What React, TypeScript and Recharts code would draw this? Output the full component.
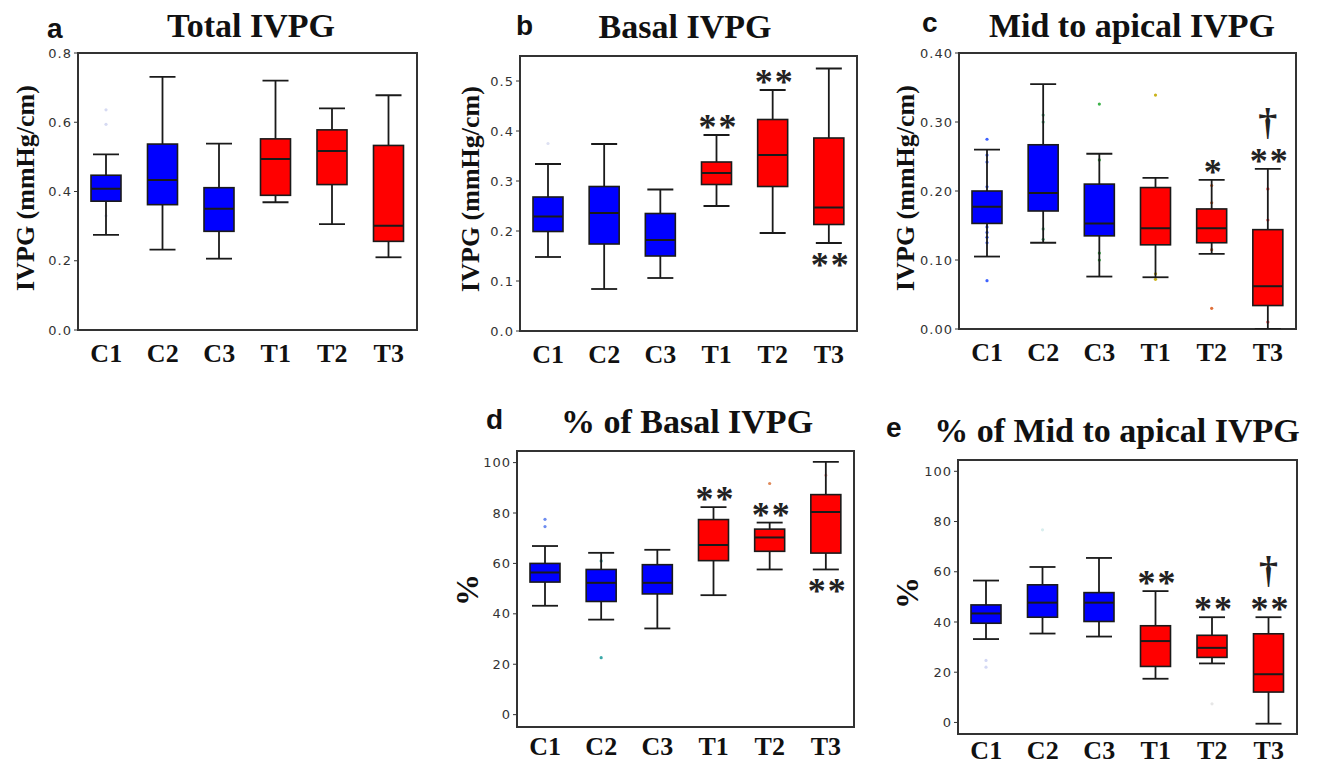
import React from 'react';
import { ComposedChart, Bar, XAxis, YAxis, ReferenceArea } from 'recharts';

const categories = ['C1', 'C2', 'C3', 'T1', 'T2', 'T3'];
const boxFills = ['#0000ff', '#0000ff', '#0000ff', '#ff0000', '#ff0000', '#ff0000'];

// a  Total IVPG (mmHg/cm)
const totalMin = [0.275, 0.232, 0.206, 0.369, 0.306, 0.21];
const totalQ1 = [0.372, 0.362, 0.285, 0.389, 0.42, 0.256];
const totalMed = [0.408, 0.433, 0.35, 0.494, 0.517, 0.301];
const totalQ3 = [0.447, 0.537, 0.411, 0.552, 0.578, 0.533];
const totalMax = [0.507, 0.731, 0.538, 0.72, 0.64, 0.678];
const totalPoints = [[0.636, 0.594, 0.33], [], [], [], [], []];
const totalTicks = [0, 0.2, 0.4, 0.6, 0.8];

// b  Basal IVPG
const basalMin = [0.148, 0.084, 0.106, 0.25, 0.196, 0.176];
const basalQ1 = [0.199, 0.174, 0.15, 0.293, 0.289, 0.213];
const basalMed = [0.229, 0.236, 0.182, 0.316, 0.352, 0.247];
const basalQ3 = [0.268, 0.289, 0.235, 0.338, 0.423, 0.386];
const basalMax = [0.334, 0.374, 0.283, 0.392, 0.482, 0.525];
const basalPoints = [[0.375], [], [], [], [], []];
const basalAbove = ['', '', '', '**', '**', ''];
const basalBelow = ['', '', '', '', '', '**'];
const basalTicks = [0, 0.1, 0.2, 0.3, 0.4, 0.5];

// c  Mid to apical IVPG
const midMin = [0.105, 0.125, 0.076, 0.075, 0.109, 0.0];
const midQ1 = [0.153, 0.171, 0.135, 0.122, 0.125, 0.034];
const midMed = [0.177, 0.197, 0.153, 0.146, 0.146, 0.062];
const midQ3 = [0.2, 0.267, 0.21, 0.205, 0.174, 0.144];
const midMax = [0.26, 0.355, 0.254, 0.219, 0.216, 0.232];
const midPoints = [
  [0.275, 0.252, 0.242, 0.206, 0.148, 0.14, 0.133, 0.125, 0.07],
  [0.31, 0.3, 0.145, 0.13],
  [0.326, 0.245, 0.11, 0.1],
  [0.339, 0.08, 0.072],
  [0.208, 0.183, 0.115, 0.03],
  [0.203, 0.158, 0.01],
];
const midAbove = ['', '', '', '', '*', '**'];
const midDagger = [false, false, false, false, false, true];
const midTicks = [0, 0.1, 0.2, 0.3, 0.4];

// d  % of Basal IVPG
const pctBasalMin = [43.2, 37.7, 34.2, 47.4, 57.6, 57.6];
const pctBasalQ1 = [52.6, 44.9, 47.9, 61.1, 64.8, 64.1];
const pctBasalMed = [56.4, 52.3, 52.3, 67.3, 70.3, 80.4];
const pctBasalQ3 = [60.0, 57.6, 59.5, 77.4, 73.6, 87.3];
const pctBasalMax = [66.9, 64.2, 65.4, 82.3, 76.2, 100.3];
const pctBasalPoints = [[77.5, 74.6], [22.6, 61], [], [], [91.7], [95]];
const pctBasalAbove = ['', '', '', '**', '**', ''];
const pctBasalBelow = ['', '', '', '', '', '**'];

// e  % of Mid to apical IVPG
const pctMidMin = [33.2, 35.4, 34.2, 17.4, 23.5, -0.5];
const pctMidQ1 = [39.5, 41.9, 40.2, 22.3, 25.9, 12.1];
const pctMidMed = [43.4, 47.7, 47.7, 32.4, 29.7, 19.2];
const pctMidQ3 = [46.8, 54.8, 51.7, 38.5, 34.7, 35.3];
const pctMidMax = [56.5, 61.9, 65.5, 52.3, 41.9, 41.9];
const pctMidPoints = [[24.7, 22], [76.7], [], [], [7.4], []];
const pctMidAbove = ['', '', '', '**', '**', '**'];
const pctMidDagger = [false, false, false, false, false, true];
const pctTicks = [0, 20, 40, 60, 80, 100];

const none = ['', '', '', '', '', ''];
const noDagger = [false, false, false, false, false, false];

function buildRows(mins: number[], q1: number[], med: number[], q3: number[], max: number[], pts: number[][]) {
  return categories.map((cat, i) => ({
    cat,
    min: mins[i],
    q1: q1[i],
    med: med[i],
    q3: q3[i],
    max: max[i],
    points: pts[i],
  }));
}

type Frame = { left: number; top: number; right: number; bottom: number };

function BoxPanel(props: {
  frame: Frame;
  domain: [number, number];
  ticks: number[];
  fmt: (v: number) => string;
  rows: any[];
  pointColors: string[];
  above: string[];
  below: string[];
  dagger: boolean[];
  labelGap: number;
}) {
  const { frame, domain, ticks, fmt, rows, pointColors, above, below, dagger, labelGap } = props;
  const fw = frame.right - frame.left;
  const fh = frame.bottom - frame.top;
  const plotBottom = 10 + fh;

  const renderBox = (p: any) => {
    const { x, y, width, height, index, payload } = p;
    const top = Math.min(y, y + height);
    const bot = Math.max(y, y + height);
    const py = (v: number) => top + ((payload.max - v) / (payload.max - payload.min)) * (bot - top);
    const cx = x + width / 2;
    const cap = 13;
    const ink = '#1a1a1a';
    const starSize = 36;
    return (
      <g>
        {payload.points.map((v: number, k: number) => (
          <circle key={k} cx={cx} cy={py(v)} r={1.6} fill={pointColors[index]} />
        ))}
        <line x1={cx} x2={cx} y1={py(payload.max)} y2={py(payload.q3)} stroke={ink} strokeWidth={1.8} />
        <line x1={cx} x2={cx} y1={py(payload.q1)} y2={py(payload.min)} stroke={ink} strokeWidth={1.8} />
        <line x1={cx - cap} x2={cx + cap} y1={py(payload.max)} y2={py(payload.max)} stroke={ink} strokeWidth={1.8} />
        <line x1={cx - cap} x2={cx + cap} y1={py(payload.min)} y2={py(payload.min)} stroke={ink} strokeWidth={1.8} />
        <rect
          x={x}
          y={py(payload.q3)}
          width={width}
          height={py(payload.q1) - py(payload.q3)}
          fill={boxFills[index]}
          stroke={ink}
          strokeWidth={1.6}
        />
        <line x1={x} x2={x + width} y1={py(payload.med)} y2={py(payload.med)} stroke={ink} strokeWidth={2} />
        {above[index] && (
          <text x={cx + 2} y={py(payload.max) - 13 + 0.47 * starSize} textAnchor="middle" fontFamily="Liberation Serif" fontWeight="bold" fontSize={starSize} letterSpacing={2} fill="#222">
            {above[index]}
          </text>
        )}
        {below[index] && (
          <text x={cx + 2} y={py(payload.min) + 17 + 0.47 * starSize} textAnchor="middle" fontFamily="Liberation Serif" fontWeight="bold" fontSize={starSize} letterSpacing={2} fill="#222">
            {below[index]}
          </text>
        )}
        {dagger[index] && (
          <text x={cx} y={py(payload.max) - 44 + 10} textAnchor="middle" fontFamily="Liberation Serif" fontWeight="bold" fontSize={38} fill="#222">
            †
          </text>
        )}
      </g>
    );
  };

  return (
    <div style={{ position: 'absolute', left: frame.left - 60, top: frame.top - 10 }}>
      <ComposedChart width={fw + 65} height={fh + 60} data={rows} margin={{ top: 10, right: 5, bottom: 0, left: 0 }}>
        <XAxis
          dataKey="cat"
          height={50}
          axisLine={false}
          tickLine={false}
          interval={0}
          tick={(t: any) => (
            <text x={t.x} y={plotBottom + labelGap} textAnchor="middle" fontFamily="Liberation Serif" fontWeight="bold" fontSize={26} fill="#111">
              {t.payload.value}
            </text>
          )}
        />
        <YAxis
          type="number"
          width={60}
          domain={domain}
          ticks={ticks}
          allowDataOverflow
          axisLine={false}
          tickSize={4}
          tickLine={{ stroke: '#333' }}
          tickFormatter={fmt}
          tick={{ fontFamily: 'DejaVu Sans', fontSize: 13, fill: '#333', letterSpacing: 1 }}
        />
        <Bar dataKey={(d: any) => [d.min, d.max]} barSize={30} shape={renderBox} isAnimationActive={false} />
        <ReferenceArea y1={domain[0]} y2={domain[1]} fill="none" fillOpacity={0} stroke="#333" strokeWidth={2} ifOverflow="visible" />
      </ComposedChart>
    </div>
  );
}

const serif = 'Liberation Serif';
const sans = 'Liberation Sans';

export default function App() {
  const f1 = (v: number) => v.toFixed(1);
  const f2 = (v: number) => v.toFixed(2);
  const f0 = (v: number) => String(v);
  return (
    <div style={{ position: 'absolute', left: 0, top: 0, width: 1320, height: 765, background: '#fff', overflow: 'hidden' }}>
      <BoxPanel
        frame={{ left: 78, top: 53, right: 417, bottom: 330 }}
        domain={[0, 0.8]}
        ticks={totalTicks}
        fmt={f1}
        rows={buildRows(totalMin, totalQ1, totalMed, totalQ3, totalMax, totalPoints)}
        pointColors={['#d6daf2', '#d6daf2', '#d6daf2', '#d6daf2', '#d6daf2', '#d6daf2']}
        above={none}
        below={none}
        dagger={noDagger}
        labelGap={32}
      />
      <BoxPanel
        frame={{ left: 520, top: 56, right: 857, bottom: 331 }}
        domain={[0, 0.55]}
        ticks={basalTicks}
        fmt={f1}
        rows={buildRows(basalMin, basalQ1, basalMed, basalQ3, basalMax, basalPoints)}
        pointColors={['#dde0f2', '#dde0f2', '#dde0f2', '#dde0f2', '#dde0f2', '#dde0f2']}
        above={basalAbove}
        below={basalBelow}
        dagger={noDagger}
        labelGap={32}
      />
      <BoxPanel
        frame={{ left: 959, top: 53, right: 1296, bottom: 329 }}
        domain={[0, 0.4]}
        ticks={midTicks}
        fmt={f2}
        rows={buildRows(midMin, midQ1, midMed, midQ3, midMax, midPoints)}
        pointColors={['#3f63ff', '#5fb88a', '#3db24a', '#c9b21a', '#e0703a', '#ee4040']}
        above={midAbove}
        below={none}
        dagger={midDagger}
        labelGap={32}
      />
      <BoxPanel
        frame={{ left: 517, top: 451, right: 854, bottom: 727 }}
        domain={[-4.9, 104.6]}
        ticks={pctTicks}
        fmt={f0}
        rows={buildRows(pctBasalMin, pctBasalQ1, pctBasalMed, pctBasalQ3, pctBasalMax, pctBasalPoints)}
        pointColors={['#6d8cf0', '#3aa8a8', '#6d8cf0', '#e08a5a', '#e08a5a', '#f2b8b8']}
        above={pctBasalAbove}
        below={pctBasalBelow}
        dagger={noDagger}
        labelGap={28}
      />
      <BoxPanel
        frame={{ left: 958, top: 460, right: 1297, bottom: 734 }}
        domain={[-4.6, 104.5]}
        ticks={pctTicks}
        fmt={f0}
        rows={buildRows(pctMidMin, pctMidQ1, pctMidMed, pctMidQ3, pctMidMax, pctMidPoints)}
        pointColors={['#d3d8f4', '#d8eeee', '#d3d8f4', '#e6e6e6', '#e6e6e6', '#e6e6e6']}
        above={pctMidAbove}
        below={none}
        dagger={pctMidDagger}
        labelGap={25}
      />
      <svg width={1320} height={765} style={{ position: 'absolute', left: 0, top: 0, pointerEvents: 'none' }}>
        <g fontFamily={sans} fontWeight="bold" fontSize={28} fill="#111">
          <text x={47} y={38}>a</text>
          <text x={516} y={35}>b</text>
          <text x={922} y={32}>c</text>
          <text x={486} y={429}>d</text>
          <text x={886} y={437}>e</text>
        </g>
        <g fontFamily={serif} fontWeight="bold" fontSize={34} fill="#111" textAnchor="middle">
          <text x={251} y={37}>Total IVPG</text>
          <text x={685} y={38}>Basal IVPG</text>
          <text x={1132} y={37}>Mid to apical IVPG</text>
          <text x={687} y={433}>% of Basal IVPG</text>
          <text x={1117} y={442}>% of Mid to apical IVPG</text>
        </g>
        <g fontFamily={serif} fontWeight="bold" fontSize={26} fill="#111" textAnchor="middle" style={{ whiteSpace: 'pre' }}>
          <text x={25} y={188} dominantBaseline="central" transform="rotate(-90 25 188)">IVPG  (mmHg/cm)</text>
          <text x={470} y={189} dominantBaseline="central" transform="rotate(-90 470 189)">IVPG  (mmHg/cm)</text>
          <text x={905} y={188} dominantBaseline="central" transform="rotate(-90 905 188)">IVPG  (mmHg/cm)</text>
        </g>
        <g fontFamily={serif} fontWeight="bold" fontSize={32} fill="#111" textAnchor="middle">
          <text x={467} y={590} dominantBaseline="central" transform="rotate(-90 467 590)">%</text>
          <text x={907} y={593} dominantBaseline="central" transform="rotate(-90 907 593)">%</text>
        </g>
      </svg>
    </div>
  );
}
